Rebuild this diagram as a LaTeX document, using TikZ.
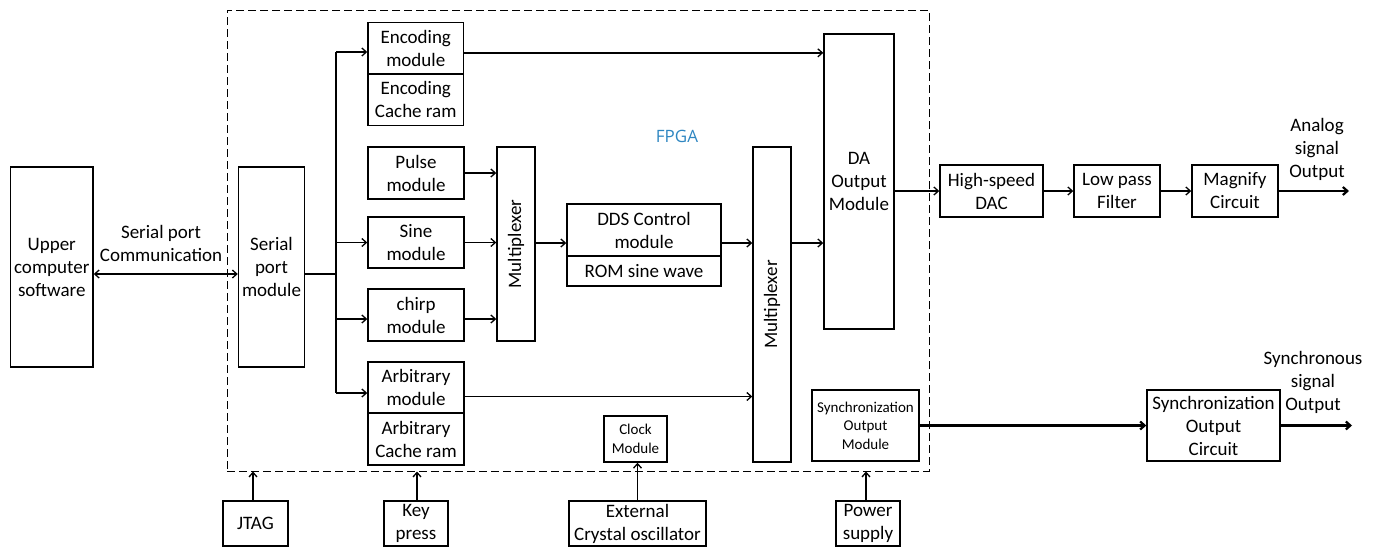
\documentclass[tikz,border=0pt]{standalone}
\usepackage{fontspec}
\setmainfont{Carlito}
\newfontfamily\labelfont{Open Sans}
\usetikzlibrary{arrows.meta,calc}
\definecolor{fpgablue}{RGB}{46,134,193}

\begin{document}
\begin{tikzpicture}[x=1pt,y=-1pt,
  >={Straight Barb[length=4.5pt,width=8pt]},
  box/.style={draw, line width=1.4pt, inner sep=0pt, align=center,
              font=\fontsize{19}{23}\selectfont},
  small/.style={font=\fontsize{15}{18.5}\selectfont},
  txt/.style={inner sep=0pt, align=center, font=\fontsize{19}{23}\selectfont},
  conn/.style={line width=1.3pt, ->},
  heavy/.style={line width=2.2pt, ->},
  wire/.style={line width=1.3pt},
]
\useasboundingbox (0,0) rectangle (1381,547);

% FPGA boundary
\node[draw, dash pattern=on 8pt off 4pt, line width=1pt, inner sep=0pt,
      minimum width=702pt, minimum height=461pt] (fpga) at (578,240.5) {};
\node[inner sep=0pt, text=fpgablue, font=\labelfont\fontsize{17}{20}\selectfont] (fpgalbl) at (677,136) {FPGA};

% host side
\node[box, minimum width=82.5pt, minimum height=200pt] (up) at (51.75,267) {Upper\\computer\\software};
\node[box, minimum width=66pt, minimum height=200pt] (sp) at (271.5,267) {Serial\\port\\module};
\node[txt] (comm) at (161,243) {Serial port\\Communication};

% generator modules
\node[box, minimum width=95.5pt, minimum height=51.3pt] (enc) at (415.75,48.35) {Encoding\\module};
\node[box, minimum width=95.5pt, minimum height=51.7pt] (encr) at (415.75,99.85) {Encoding\\Cache ram};
\node[box, minimum width=96pt, minimum height=52pt] (pulse) at (416,173) {Pulse\\module};
\node[box, minimum width=96pt, minimum height=51pt] (sine) at (416,242.5) {Sine\\module};
\node[box, minimum width=96pt, minimum height=52pt] (chirp) at (416,315) {chirp\\module};
\node[box, minimum width=96pt, minimum height=51pt] (arb) at (416,387.5) {Arbitrary\\module};
\node[box, minimum width=96pt, minimum height=52pt] (arbr) at (416,439) {Arbitrary\\Cache ram};

% multiplexers, DDS, DA output
\node[box, minimum width=38pt, minimum height=194pt] (mux1) at (516,244) {};
\node[txt, rotate=90] (mux1t) at (mux1.center) {Multiplexer};
\node[box, minimum width=154pt, minimum height=52pt] (dds) at (644,230) {DDS Control\\module};
\node[box, minimum width=154pt, minimum height=30pt] (rom) at (644,271) {ROM sine wave};
\node[box, minimum width=38pt, minimum height=315pt] (mux2) at (772,304.5) {};
\node[txt, rotate=90] (mux2t) at (mux2.center) {Multiplexer};
\node[box, minimum width=70pt, minimum height=295pt] (da) at (859,181.5) {DA\\Output\\Module};
\node[box, small, minimum width=107pt, minimum height=71pt] (syncm) at (865.5,425.5) {Synchronization\\Output\\Module};
\node[box, small, minimum width=63pt, minimum height=46pt] (clk) at (635.5,439) {Clock\\Module};

% analog chain
\node[box, minimum width=103pt, minimum height=52pt] (dac) at (991.5,191) {High-speed\\DAC};
\node[box, minimum width=86pt, minimum height=52pt] (lpf) at (1117,191) {Low pass\\Filter};
\node[box, minimum width=86pt, minimum height=52pt] (mag) at (1235,191) {Magnify\\Circuit};
\node[txt] (aoutt) at (1317,149) {Analog\\signal\\Output};
\coordinate (aout) at (1349,191);

% synchronous chain
\node[box, minimum width=133pt, minimum height=71pt] (sc) at (1213.5,425.5) {Synchronization\\Output\\Circuit};
\node[txt] (soutt) at (1313,382) {Synchronous\\signal\\Output};
\coordinate (sout) at (1352,425.5);

% external inputs
\node[box, minimum width=65pt, minimum height=45pt] (jtag) at (255.5,523.5) {JTAG};
\node[box, minimum width=64pt, minimum height=45pt] (key) at (416,523.5) {Key\\press};
\node[box, minimum width=137pt, minimum height=45pt] (ext) at (637.5,523.5) {External\\Crystal oscillator};
\node[box, minimum width=64pt, minimum height=45pt] (pwr) at (868,523.5) {Power\\supply};

% serial link
\draw[line width=1.3pt, <->] ([yshift=-7pt]up.east) -- ([yshift=-7pt]sp.west);

% distribution bus
\coordinate (bj) at (336,274);
\coordinate (bt) at (336,52);
\coordinate (bb) at (336,393);
\draw[wire] ([yshift=-7pt]sp.east) -- (bj);
\draw[wire] (bt) -- (bb);
\draw[conn] (bt) -- (bt -| enc.west);
\draw[conn] (bj |- sine.west) -- (sine.west);
\draw[conn] ([yshift=-4pt]bj |- chirp.west) -- ([yshift=-4pt]chirp.west);
\draw[conn] (bb) -- (bb -| arb.west);

% into the first multiplexer
\draw[conn] (pulse.east) -- (pulse.east -| mux1.west);
\draw[conn] (sine.east) -- (sine.east -| mux1.west);
\draw[conn] ([yshift=-4pt]chirp.east) -- ([yshift=-4pt]chirp.east -| mux1.west);

% main data path
\coordinate (row) at (0,243);
\draw[conn] (mux1.east |- row) -- (dds.west |- row);
\draw[conn] (dds.east |- row) -- (mux2.west |- row);
\draw[conn] (mux2.east |- row) -- (da.west |- row);
\draw[conn] ([yshift=-4.5pt]enc.east) -- ([yshift=-4.5pt]enc.east -| da.west);
\draw[conn] ([yshift=-9pt]arb.east) -- ([yshift=-9pt]arb.east -| mux2.west);

% analog output chain
\draw[conn] (dac.west -| da.east) -- (dac.west);
\draw[conn] (dac) -- (lpf);
\draw[conn] (lpf) -- (mag);
\draw[heavy] (mag.east) -- (aout);

% synchronous output chain
\draw[heavy] (syncm.east) -- (sc.west);
\draw[heavy] (sc.east) -- (sout);

% external inputs into the FPGA
\draw[conn] ([xshift=-2.5pt]jtag.north) -- ([xshift=-2.5pt]jtag.north |- fpga.south);
\draw[conn] ([xshift=1pt]key.north) -- ([xshift=1pt]key.north |- fpga.south);
\draw[conn] (ext.north) -- (ext.north |- clk.south);
\draw[conn] ([xshift=-2pt]pwr.north) -- ([xshift=-2pt]pwr.north |- fpga.south);
\end{tikzpicture}
\end{document}
